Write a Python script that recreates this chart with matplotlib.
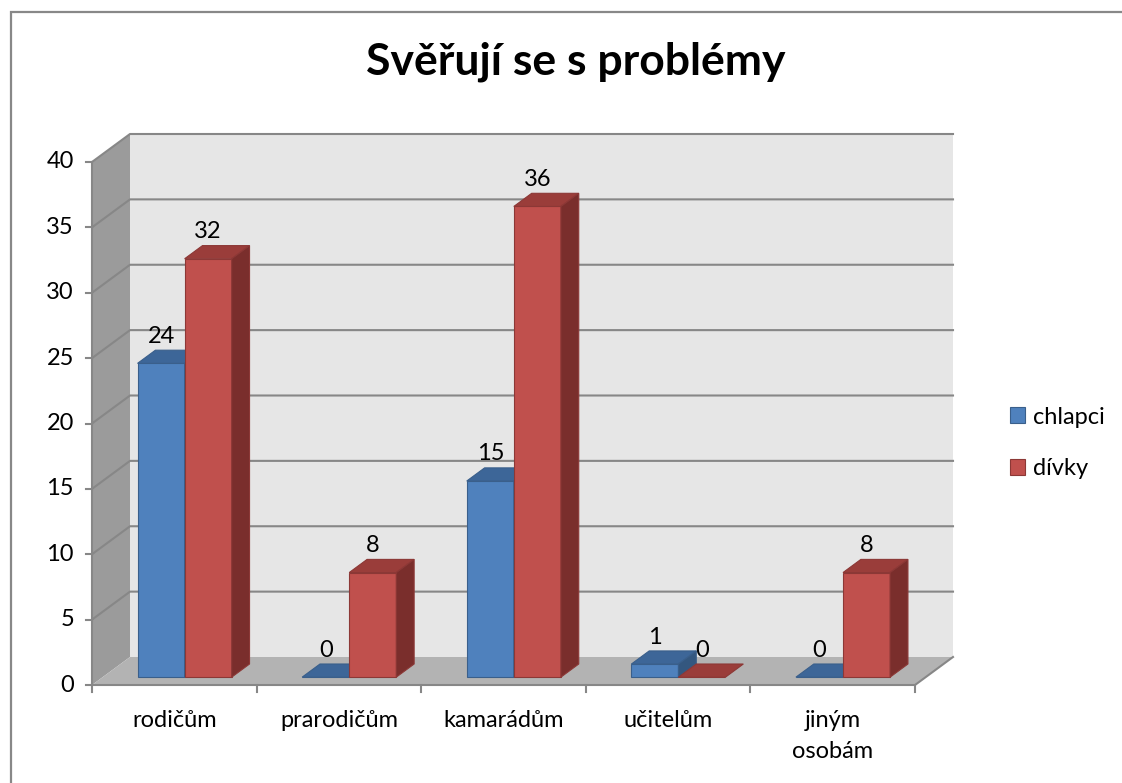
import matplotlib
matplotlib.use("Agg")
import matplotlib.pyplot as plt
from matplotlib.patches import Polygon, Rectangle

plt.rcParams['font.family'] = ['Lato', 'DejaVu Sans']

# data
categories = ["rodičům", "prarodičům", "kamarádům", "učitelům", "jiným\nosobám"]
chlapci = [24, 0, 15, 1, 0]
divky = [32, 8, 36, 0, 8]
series_names = ["chlapci", "dívky"]
y_ticks = [0, 5, 10, 15, 20, 25, 30, 35, 40]
title = "Svěřují se s problémy"

# pixel scale of the reference: one category = 164.6 px, one unit = 13.075 px
PX_X = 164.6
PX_Y = 13.075
DX = 38 / PX_X      # depth offset of the back wall
DY = 28 / PX_Y
D0, D1 = 0.28, 0.75  # bar front / back as fraction of depth
W = 0.286
YMAX = 40
FS = 17

front_col = ["#4F81BD", "#C0504D"]
top_col = ["#3D6698", "#9A3D3A"]
side_col = ["#34577F", "#7A2E2C"]
edge_col = ["#3A5F8B", "#8C3836"]
grid_col = "#878787"

fig = plt.figure(figsize=(11.22, 7.83), dpi=100)
ax = fig.add_axes([0, 0, 1, 1])
ax.set_xlim(-92 / PX_X, (1122 - 92) / PX_X)
ax.set_ylim(-(783 - 685) / PX_Y, 685 / PX_Y)
ax.axis("off")

n = len(categories)

# walls and floor
ax.add_patch(Polygon([(DX, DY), (n + DX, DY), (n + DX, YMAX + DY), (DX, YMAX + DY)],
                     closed=True, fc="#e6e6e6", ec="none", zorder=0))
ax.add_patch(Polygon([(0, 0), (DX, DY), (DX, YMAX + DY), (0, YMAX)],
                     closed=True, fc="#9b9b9b", ec="none", zorder=0))
ax.add_patch(Polygon([(0, 0), (n, 0), (n + DX, DY), (DX, DY)],
                     closed=True, fc="#b3b3b3", ec="none", zorder=0))

for v in y_ticks[1:]:
    ax.plot([0, DX, n + DX], [v, v + DY, v + DY], color=grid_col, lw=1.5, zorder=1)

# axes lines and ticks
ax.plot([0, 0], [0, YMAX], color=grid_col, lw=1.5, zorder=1)
ax.plot([0, n, n + DX], [0, 0, DY], color=grid_col, lw=1.5, zorder=1)
for v in y_ticks:
    ax.plot([-6 / PX_X, 0], [v, v], color=grid_col, lw=1.5, zorder=1)
    ax.text(-18 / PX_X, v, str(v), ha="right", va="center", fontsize=FS)
for i in range(n + 1):
    ax.plot([i, i], [0, -7 / PX_Y], color=grid_col, lw=1.5, zorder=1)
for i, c in enumerate(categories):
    ax.text(i + 0.5, -25 / PX_Y, c, ha="center", va="top", fontsize=FS, linespacing=1.6)

# 3d bars
handles = []
for s, vals in enumerate([chlapci, divky]):
    lefts = [i + 0.212 + s * W + D0 * DX for i in range(n)]
    bars = ax.bar(lefts, vals, width=W, bottom=D0 * DY, align="edge",
                  color=front_col[s], edgecolor=edge_col[s], lw=0.8,
                  zorder=3 + s, label=series_names[s])
    handles.append(bars)
    ddx = (D1 - D0) * DX
    for xl, v in zip(lefts, vals):
        y0 = D0 * DY
        top = v + y0
        dd = (D1 - D0) * DY
        ax.add_patch(Polygon([(xl, top), (xl + W, top), (xl + W + ddx, top + dd), (xl + ddx, top + dd)],
                             closed=True, fc=top_col[s], ec=edge_col[s], lw=0.8, zorder=3 + s))
        if v > 0:
            ax.add_patch(Polygon([(xl + W, y0), (xl + W, top), (xl + W + ddx, top + dd), (xl + W + ddx, y0 + dd)],
                                 closed=True, fc=side_col[s], ec=edge_col[s], lw=0.8, zorder=3 + s))
        ax.annotate(str(v), xy=(xl + W / 2, top + dd), xytext=(0, 10), textcoords="offset points",
                    ha="center", va="center", fontsize=FS, zorder=6)

ax.legend(handles=handles, loc="center left", bbox_to_anchor=(1005 / 1122, 1 - 443 / 783),
          frameon=False, fontsize=FS, handlelength=0.65, handleheight=0.65,
          handletextpad=0.35, labelspacing=1.3, borderaxespad=0, borderpad=0.2)

ax.text(576 / 1122, 1 - 62 / 783, title, transform=ax.transAxes, ha="center", va="center",
        fontsize=32, fontweight="bold")

# chart border
fig.patches.append(Rectangle((10.5 / 1122, -0.01), 1.02, 1 - 11.5 / 783 + 0.01, transform=fig.transFigure,
                             fill=False, ec="#888888", lw=1.6))

fig.savefig("out.png", dpi=100)
